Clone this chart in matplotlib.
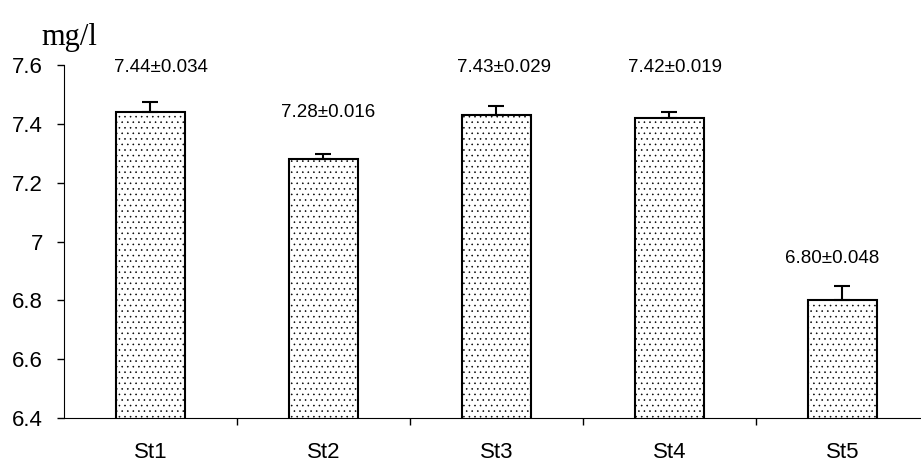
import matplotlib.pyplot as plt
import numpy as np

# data
stations = ['St1', 'St2', 'St3', 'St4', 'St5']
means = [7.44, 7.28, 7.43, 7.42, 6.80]
errs = [0.034, 0.016, 0.029, 0.019, 0.048]
labels = ['7.44±0.034', '7.28±0.016', '7.43±0.029', '7.42±0.019', '6.80±0.048']
label_y = [7.59, 7.44, 7.59, 7.59, 6.944]
label_dx = [0.06, 0.025, 0.045, 0.03, -0.06]  # labels sit a bit off-centre

plt.rcParams['font.family'] = ['Liberation Sans', 'DejaVu Sans']
plt.rcParams['hatch.linewidth'] = 0.4

fig = plt.figure(figsize=(9.21, 4.61), dpi=100)
# axis runs slightly past the right edge of the figure
ax = fig.add_axes([0.0695, 0.093, 0.939, 0.766])

x = np.arange(len(stations))
ax.bar(x, means, width=0.4, color='white', edgecolor='black', linewidth=1.5,
       hatch='...', zorder=2)
ax.errorbar(x, means, yerr=[np.zeros(len(errs)), errs], fmt='none',
            ecolor='black', elinewidth=1.5, capsize=6, capthick=1.5, zorder=3)

for xi, dx, yi, t in zip(x, label_dx, label_y, labels):
    ax.text(xi + dx, yi, t, ha='center', va='center', fontsize=13.5)

ax.set_xlim(-0.5, len(stations) - 0.5)
ax.set_ylim(6.4, 7.6)
ax.set_yticks([6.4, 6.6, 6.8, 7.0, 7.2, 7.4, 7.6])
ax.set_yticklabels(['6.4', '6.6', '6.8', '7', '7.2', '7.4', '7.6'])
ax.set_xticks(x)
ax.set_xticklabels(stations)
ax.set_xticks(np.arange(0.5, len(stations) - 0.5, 1), minor=True)
ax.tick_params(axis='x', which='major', length=0, pad=17, labelsize=16)
ax.tick_params(axis='x', which='minor', length=5, width=1, direction='out')
ax.tick_params(axis='y', length=5, width=1, direction='out', labelsize=16, pad=10)

ax.spines['top'].set_visible(False)
ax.spines['right'].set_visible(False)

fig.text(0.045, 0.902, 'mg/l', fontsize=22, family='Liberation Serif', va='baseline')

fig.savefig('out.png', dpi=100)
